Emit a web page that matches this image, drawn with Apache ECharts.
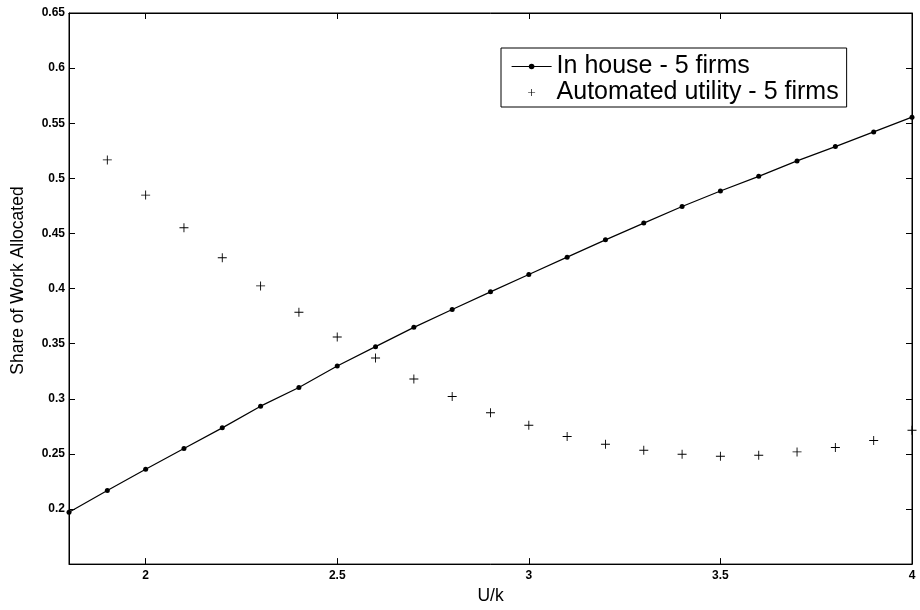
<!DOCTYPE html>
<html>
<head>
<meta charset="utf-8">
<script src="https://cdn.jsdelivr.net/npm/echarts@6/dist/echarts.min.js"></script>
<style>
html,body{margin:0;padding:0;background:#fff;}
#chart{width:920px;height:610px;}
</style>
</head>
<body>
<div id="chart"></div>
<script>
// ---- data ----
const inHouseX = [1.8, 1.9, 2.0, 2.1, 2.2, 2.3, 2.4, 2.5, 2.6, 2.7, 2.8, 2.9, 3.0, 3.1, 3.2, 3.3, 3.4, 3.5, 3.6, 3.7, 3.8, 3.9, 4.0];
const inHouseY = [0.197, 0.2168, 0.236, 0.2548, 0.2736, 0.2933, 0.3103, 0.3297, 0.3473, 0.3648, 0.381, 0.397, 0.4127, 0.4285, 0.4442, 0.4594, 0.4744, 0.4885, 0.5018, 0.5158, 0.5288, 0.5421, 0.5555];
const autoX = [1.9, 2.0, 2.1, 2.2, 2.3, 2.4, 2.5, 2.6, 2.7, 2.8, 2.9, 3.0, 3.1, 3.2, 3.3, 3.4, 3.5, 3.6, 3.7, 3.8, 3.9, 4.0];
const autoY = [0.5167, 0.4848, 0.4552, 0.4279, 0.4024, 0.3785, 0.3561, 0.337, 0.3179, 0.302, 0.2873, 0.276, 0.2658, 0.2588, 0.2533, 0.2497, 0.2479, 0.2488, 0.2518, 0.2558, 0.2621, 0.2715];
const xTicks = [2, 2.5, 3, 3.5, 4];
const seriesNames = ['In house - 5 firms', 'Automated utility - 5 firms'];
const xName = 'U/k';
const yName = 'Share of Work Allocated';

const FONT = 'Liberation Sans, Arial, Helvetica, sans-serif';
const plusPath = 'path://M0,4.5H10V5.5H0Z M4.5,0H5.5V10H4.5Z';

const chart = echarts.init(document.getElementById('chart'), null, {renderer: 'canvas'});

const tickStyle = {show: true, inside: true, length: 6, lineStyle: {color: '#000', width: 1}};

const option = {
  animation: false,
  backgroundColor: '#fff',
  grid: {left: 69, right: 8, top: 13, bottom: 43, show: true, borderColor: '#000', borderWidth: 1, backgroundColor: 'transparent'},
  legend: {
    orient: 'vertical',
    left: 501, top: 48,
    padding: [6, 8, 2, 10],
    itemGap: 1,
    itemWidth: 40, itemHeight: 7,
    borderColor: '#000', borderWidth: 1,
    backgroundColor: '#fff',
    lineStyle: {width: 1.2},
    textStyle: {fontFamily: FONT, fontSize: 25, color: '#000'},
    data: [
      {name: seriesNames[0]},
      {name: seriesNames[1], icon: plusPath}
    ]
  },
  xAxis: [
    {
      type: 'value', position: 'bottom', min: 1.8, max: 4,
      name: xName, nameLocation: 'middle', nameGap: 21,
      nameTextStyle: {fontFamily: FONT, fontSize: 17.5, color: '#000'},
      axisLine: {show: true, lineStyle: {color: '#000', width: 1}},
      axisTick: Object.assign({customValues: xTicks}, tickStyle),
      axisLabel: {customValues: xTicks, fontFamily: FONT, fontSize: 12, fontWeight: 'bold', color: '#000', margin: 6},
      splitLine: {show: false}
    },
    {
      type: 'value', position: 'top', min: 1.8, max: 4,
      axisLine: {show: true, lineStyle: {color: '#000', width: 1}},
      axisTick: Object.assign({customValues: xTicks}, tickStyle),
      axisLabel: {show: false},
      splitLine: {show: false}
    }
  ],
  yAxis: [
    {
      type: 'value', position: 'left', min: 0.15, max: 0.65, interval: 0.05,
      name: yName, nameLocation: 'middle', nameGap: 42,
      nameTextStyle: {fontFamily: FONT, fontSize: 17.5, color: '#000', padding: [0, 0, 0, 16]},
      axisLine: {show: true, lineStyle: {color: '#000', width: 1}},
      axisTick: tickStyle,
      axisLabel: {
        fontFamily: FONT, fontSize: 12, fontWeight: 'bold', color: '#000', margin: 4,
        formatter: function (v) { return v < 0.17 ? '' : String(Math.round(v * 100) / 100); }
      },
      splitLine: {show: false}
    },
    {
      type: 'value', position: 'right', min: 0.15, max: 0.65, interval: 0.05,
      axisLine: {show: true, lineStyle: {color: '#000', width: 1}},
      axisTick: tickStyle,
      axisLabel: {show: false},
      splitLine: {show: false}
    }
  ],
  series: [
    {
      name: seriesNames[0], type: 'line',
      xAxisIndex: 0, yAxisIndex: 0,
      data: inHouseX.map((x, i) => [x, inHouseY[i]]),
      symbol: 'circle', symbolSize: 5, showSymbol: true, showAllSymbol: true,
      lineStyle: {color: '#000', width: 1.2},
      itemStyle: {color: '#000'},
      clip: false
    },
    {
      name: seriesNames[1], type: 'scatter',
      xAxisIndex: 0, yAxisIndex: 0,
      data: autoX.map((x, i) => [x, autoY[i]]),
      symbol: plusPath, symbolSize: 9, symbolKeepAspect: true,
      itemStyle: {color: '#000', opacity: 1},
      clip: false
    }
  ]
};
chart.setOption(option);
</script>
</body>
</html>
